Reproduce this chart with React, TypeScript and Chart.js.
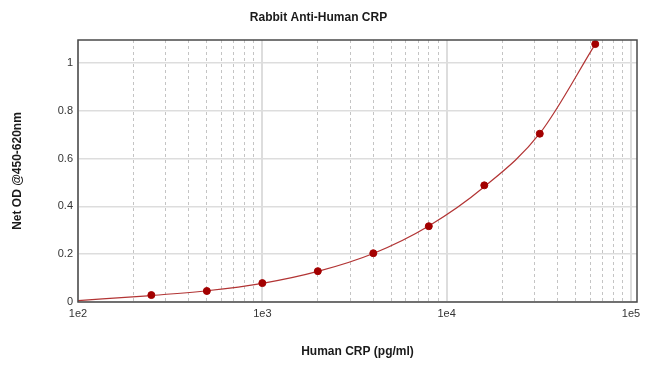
import React, { useEffect, useRef } from 'react';
import { Chart, registerables } from 'chart.js';

Chart.register(...registerables);

const chartTitle = 'Rabbit Anti-Human CRP';
const xAxisTitle = 'Human CRP (pg/ml)';
const yAxisTitle = 'Net OD @450-620nm';

// measured standards
const concentrations = [250, 500, 1000, 2000, 4000, 8000, 16000, 32000, 64000];
const odValues = [0.029, 0.046, 0.079, 0.129, 0.204, 0.317, 0.488, 0.704, 1.079];

// fitted curve
const curveX = [100, 250, 500, 1000, 2000, 4000, 8000, 16000, 32000, 64000];
const curveY = [0.006, 0.027, 0.047, 0.078, 0.128, 0.203, 0.318, 0.482, 0.705, 1.079];

const xDecadeTicks = [100, 1000, 10000, 100000];
const xDecadeLabels = ['1e2', '1e3', '1e4', '1e5'];
const xMinorTicks = [
  200, 300, 400, 500, 600, 700, 800, 900,
  2000, 3000, 4000, 5000, 6000, 7000, 8000, 9000,
  20000, 30000, 40000, 50000, 60000, 70000, 80000, 90000,
];
const yTicks = [0, 0.2, 0.4, 0.6, 0.8, 1];

const X_MIN = 100;
const X_MAX = 107800;
const Y_MIN = 0;
const Y_MAX = 1.096;

const FONT = 'Arial, "Liberation Sans", sans-serif';

const frame = {
  id: 'frame',
  afterDraw(chart: any) {
    const { ctx, chartArea } = chart;
    ctx.save();
    ctx.strokeStyle = '#4a4a4a';
    ctx.lineWidth = 1.5;
    ctx.strokeRect(chartArea.left, chartArea.top, chartArea.right - chartArea.left, chartArea.bottom - chartArea.top);
    ctx.restore();
  },
};

export default function App() {
  const ref = useRef<HTMLCanvasElement | null>(null);

  useEffect(() => {
    if (!ref.current) return;
    const allX = [...xDecadeTicks, ...xMinorTicks].sort((a, b) => a - b);
    const chart = new Chart(ref.current, {
      type: 'scatter',
      data: {
        datasets: [
          {
            type: 'line',
            data: curveX.map((x, i) => ({ x, y: curveY[i] })),
            borderColor: '#b23434',
            borderWidth: 1.2,
            pointRadius: 0,
            cubicInterpolationMode: 'monotone',
            fill: false,
            order: 2,
          } as any,
          {
            type: 'scatter',
            data: concentrations.map((x, i) => ({ x, y: odValues[i] })),
            backgroundColor: '#a30000',
            borderColor: '#a30000',
            pointRadius: 3.5,
            clip: false,
            order: 1,
          } as any,
        ],
      },
      options: {
        animation: false,
        responsive: false,
        layout: { padding: { left: 0, right: 13, top: 0, bottom: 0 } },
        plugins: {
          legend: { display: false },
          tooltip: { enabled: false },
          title: {
            display: true,
            text: chartTitle,
            color: '#1a1a1a',
            font: { family: FONT, size: 12, weight: 'bold' },
            padding: { top: 10, bottom: 15.6 },
          },
        },
        scales: {
          x: {
            type: 'logarithmic',
            position: 'bottom',
            min: X_MIN,
            max: X_MAX,
            afterBuildTicks: (s: any) => {
              s.ticks = allX.map((v) => ({ value: v }));
            },
            afterFit: (s: any) => {
              s.height = 70;
            },
            ticks: {
              autoSkip: false,
              maxRotation: 0,
              padding: 5,
              color: '#333',
              font: { family: FONT, size: 11 },
              callback: (v: any) => {
                const idx = xDecadeTicks.indexOf(Number(v));
                return idx >= 0 ? xDecadeLabels[idx] : '';
              },
            },
            grid: {
              drawTicks: false,
              lineWidth: 1,
              color: (ctx: any) =>
                ctx.tick && xDecadeTicks.indexOf(ctx.tick.value) >= 0 ? 'rgba(0,0,0,0)' : '#c4c4c4',
            },
            border: { display: false, dash: [3, 3] },
            title: {
              display: true,
              text: xAxisTitle,
              color: '#1a1a1a',
              font: { family: FONT, size: 12, weight: 'bold' },
              padding: { top: 0, bottom: 12.8 },
            },
          } as any,
          x2: {
            type: 'logarithmic',
            position: 'top',
            min: X_MIN,
            max: X_MAX,
            afterBuildTicks: (s: any) => {
              s.ticks = xDecadeTicks.map((v) => ({ value: v }));
            },
            afterFit: (s: any) => {
              s.height = 0;
            },
            ticks: { display: false },
            grid: { drawTicks: false, color: '#dddddd', lineWidth: 2 },
            border: { display: false },
          } as any,
          y: {
            type: 'linear',
            min: Y_MIN,
            max: Y_MAX,
            afterBuildTicks: (s: any) => {
              s.ticks = yTicks.map((v) => ({ value: v }));
            },
            afterFit: (s: any) => {
              s.width = 78;
            },
            ticks: {
              padding: 5,
              color: '#333',
              font: { family: FONT, size: 11 },
              callback: (v: any) => String(v),
            },
            grid: { drawTicks: false, color: '#dddddd', lineWidth: 1.5 },
            border: { display: false },
            title: {
              display: true,
              text: yAxisTitle,
              color: '#1a1a1a',
              font: { family: FONT, size: 12, weight: 'bold' },
              padding: { top: 10, bottom: 0 },
            },
          } as any,
        },
      },
      plugins: [frame],
    });
    return () => chart.destroy();
  }, []);

  return (
    <div style={{ position: 'absolute', left: 0, top: 0, width: 650, height: 372, background: '#fff' }}>
      <canvas ref={ref} width={650} height={372} style={{ display: 'block', width: 650, height: 372 }} />
    </div>
  );
}
